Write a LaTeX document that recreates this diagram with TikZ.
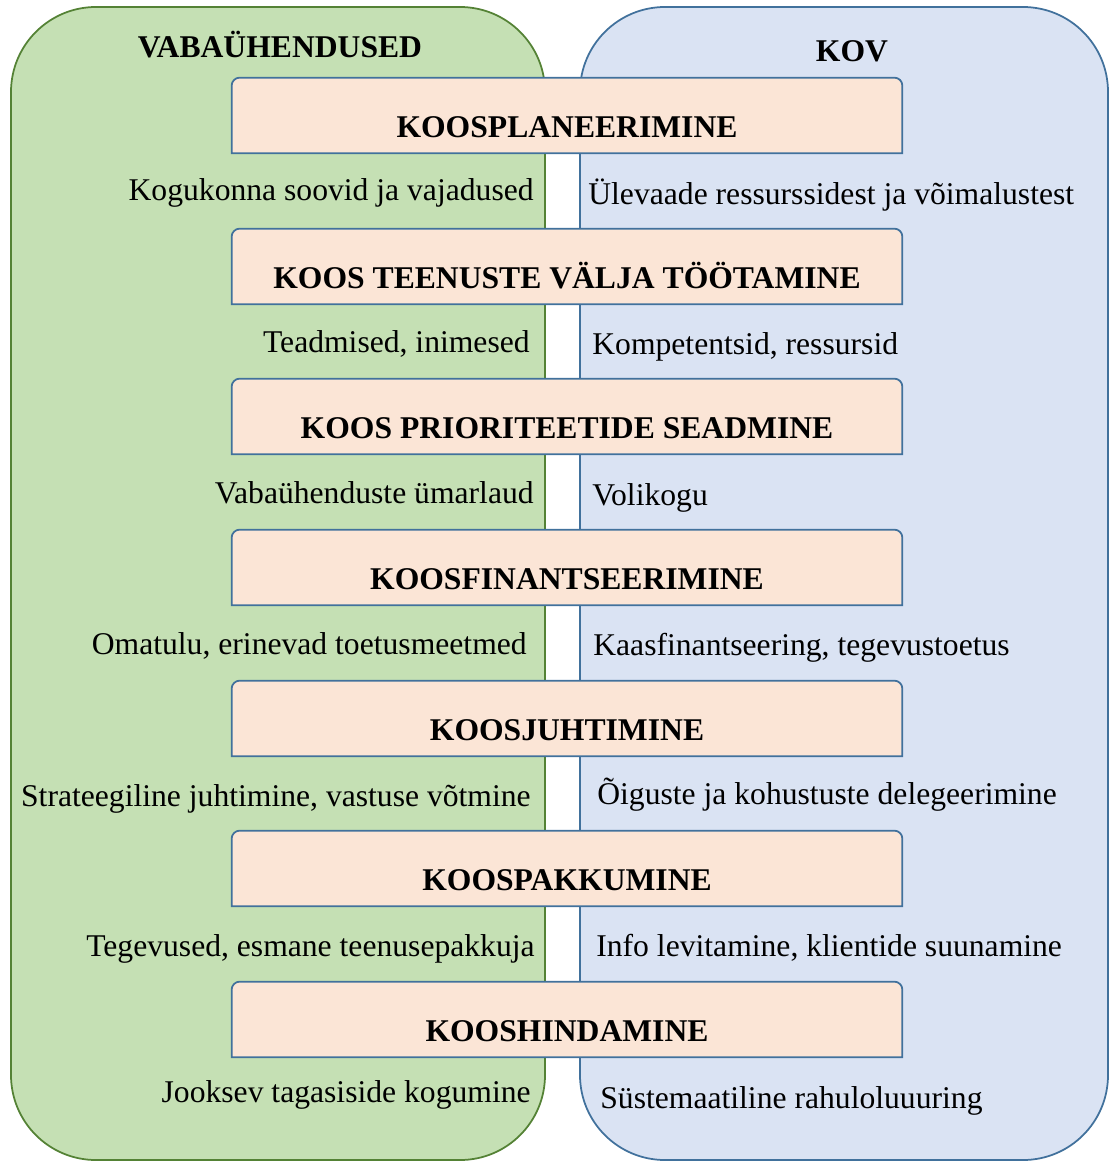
\documentclass[tikz,border=0pt]{standalone}
\usepackage{fontspec}
\setmainfont{Liberation Serif}
\usepackage{tikz}
\usetikzlibrary{positioning}
\definecolor{vabfill}{HTML}{C5E0B4}
\definecolor{vabline}{HTML}{548235}
\definecolor{kovfill}{HTML}{DAE3F3}
\definecolor{kovline}{HTML}{41719C}
\definecolor{stepfill}{HTML}{FBE5D6}
\pgfdeclarelayer{back}
\pgfdeclarelayer{mid}
\pgfsetlayers{back,mid,main}

\begin{document}
\begin{tikzpicture}[x=0.2mm,y=-0.2mm]
        \useasboundingbox (0,0) rectangle (1110,1162);
        \begin{pgfonlayer}{back}
        \begin{scope}[every node/.style={rectangle,rounded corners=17mm,line width=1pt,inner sep=0pt,minimum height=230.6mm}]
        \node[draw=vabline,fill=vabfill,minimum width=106.8mm] (vab) at (278,583.5) {};
        \node[draw=kovline,fill=kovfill,minimum width=105.6mm] (kov) at (844,583.5) {};
        \end{scope}
        \end{pgfonlayer}
        \begin{scope}[every node/.style={font=\fontsize{18}{22}\selectfont\bfseries,inner sep=0pt,anchor=base}]
        \node (vabhead) at (280,58) {VABAÜHENDUSED};
        \node (kovhead) at (852,62) {KOV};
        \end{scope}
        \begin{scope}[every node/.style={font=\fontsize{18}{22}\selectfont\bfseries,inner sep=0pt,minimum width=134mm,text height=11.8mm,text depth=3.2mm}]
        \node (plan) at (567,115.5) {KOOSPLANEERIMINE};
        \node (dev) at (567,266.5) {KOOS TEENUSTE VÄLJA TÖÖTAMINE};
        \node (prio) at (567,416.5) {KOOS PRIORITEETIDE SEADMINE};
        \node (fin) at (567,567.5) {KOOSFINANTSEERIMINE};
        \node (lead) at (567,718.5) {KOOSJUHTIMINE};
        \node (offer) at (567,868.5) {KOOSPAKKUMINE};
        \node (eval) at (567,1019.5) {KOOSHINDAMINE};
        \end{scope}
        \begin{pgfonlayer}{mid}
        \foreach \b in {plan,dev,prio,fin,lead,offer,eval}
          \filldraw[draw=kovline,fill=stepfill,line width=1pt] (\b.south west) -- ([yshift=-1.6mm]\b.north west) arc[start angle=180,end angle=90,radius=1.6mm] -- ([xshift=-1.6mm]\b.north east) arc[start angle=90,end angle=0,radius=1.6mm] -- (\b.south east) -- cycle;
        \end{pgfonlayer}
        \begin{scope}[every node/.style={font=\fontsize{18}{22}\selectfont,inner sep=0pt,anchor=base east}]
        \node (vab1) at (534,200) {Kogukonna soovid ja vajadused};
        \node (vab2) at (530,352) {Teadmised, inimesed};
        \node (vab3) at (534,503) {Vabaühenduste ümarlaud};
        \node (vab4) at (527,654) {Omatulu, erinevad toetusmeetmed};
        \node (vab5) at (531,806) {Strateegiline juhtimine, vastuse võtmine};
        \node (vab6) at (535,956) {Tegevused, esmane teenusepakkuja};
        \node (vab7) at (531,1102) {Jooksev tagasiside kogumine};
        \end{scope}
        \begin{scope}[every node/.style={font=\fontsize{18}{22}\selectfont,inner sep=0pt,anchor=base west}]
        \node (kov1) at (588,204) {Ülevaade ressurssidest ja võimalustest};
        \node (kov2) at (592,354) {Kompetentsid, ressursid};
        \node (kov3) at (592,505) {Volikogu};
        \node (kov4) at (593,655) {Kaasfinantseering, tegevustoetus};
        \node (kov5) at (597,804) {Õiguste ja kohustuste delegeerimine};
        \node (kov6) at (596,956) {Info levitamine, klientide suunamine};
        \node (kov7) at (600,1108) {Süstemaatiline rahuloluuuring};
        \end{scope}
\end{tikzpicture}
\end{document}
